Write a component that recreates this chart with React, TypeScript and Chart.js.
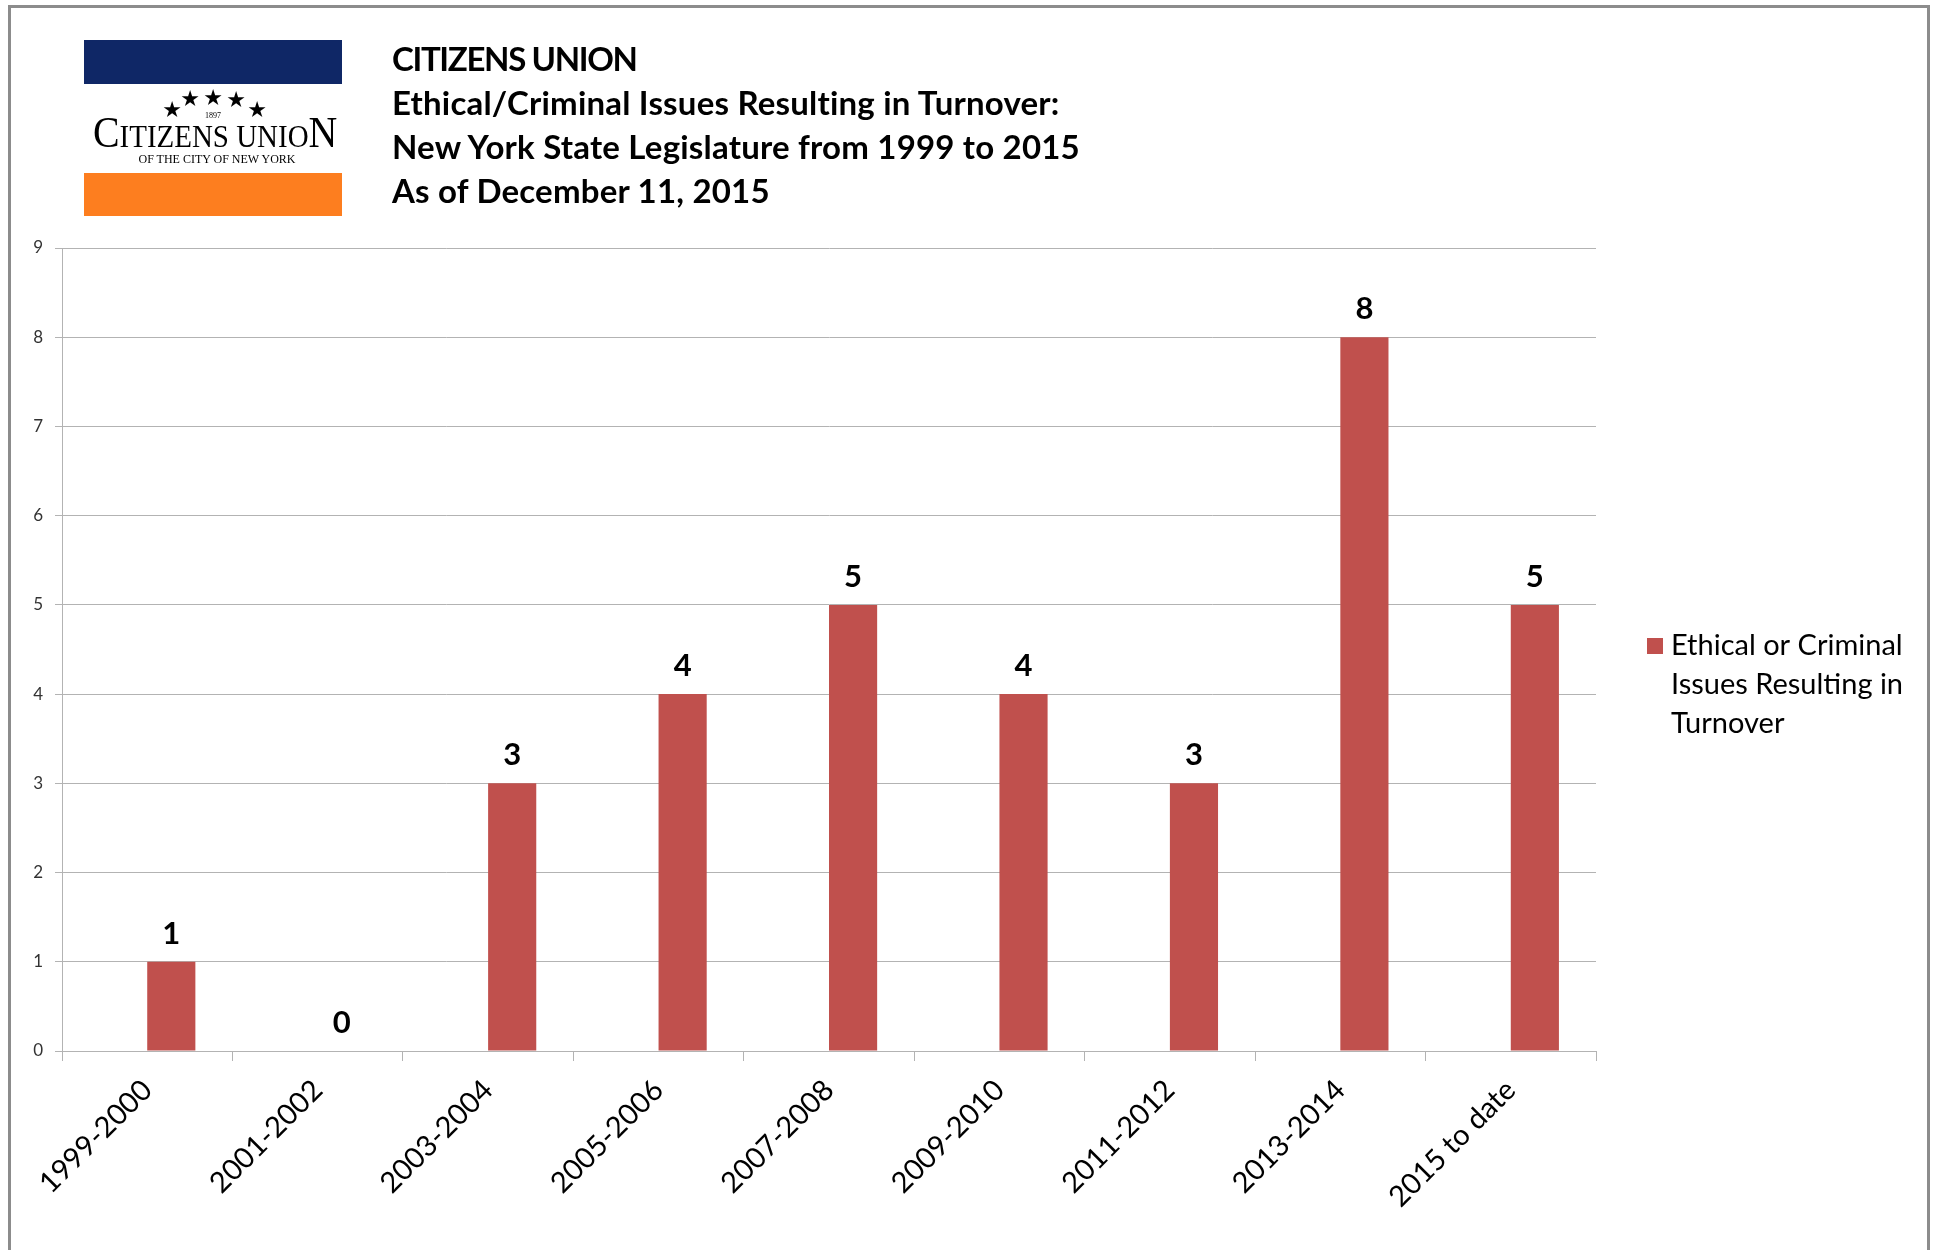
import React, { useEffect, useRef } from "react";
import { Chart, registerables } from "chart.js";

Chart.register(...registerables);

// ---- Data ----
const categories = [
  "1999-2000",
  "2001-2002",
  "2003-2004",
  "2005-2006",
  "2007-2008",
  "2009-2010",
  "2011-2012",
  "2013-2014",
  "2015 to date",
];
const turnoverCounts = [1, 0, 3, 4, 5, 4, 3, 8, 5];
const blankSeries: (number | null)[] = [null, null, null, null, null, null, null, null, null];
const seriesName = "Ethical or Criminal Issues Resulting in Turnover";
const legendLines = ["Ethical or Criminal", "Issues Resulting in", "Turnover"];
const yMin = 0;
const yMax = 9;
const yStep = 1;
const titleLines = [
  "CITIZENS UNION",
  "Ethical/Criminal Issues Resulting in Turnover:",
  "New York State Legislature from 1999 to 2015",
  "As of December 11, 2015",
];

const BAR_COLOR = "#c0504d";
const GRID_COLOR = "#b3b3b3";
const FONT = "Lato, 'Open Sans', sans-serif";

const CANVAS_W = 1916;
const CANVAS_H = 1242;

export default function App() {
  const canvasRef = useRef<HTMLCanvasElement | null>(null);

  useEffect(() => {
    const canvas = canvasRef.current;
    if (!canvas) return;

    const dataLabels = {
      id: "dataLabels",
      afterDatasetsDraw(chart: any) {
        const ctx = chart.ctx;
        const meta = chart.getDatasetMeta(1);
        ctx.save();
        ctx.font = `bold 31px ${FONT}`;
        ctx.fillStyle = "#000";
        ctx.textAlign = "center";
        ctx.textBaseline = "middle";
        meta.data.forEach((el: any, i: number) => {
          const v = chart.data.datasets[1].data[i];
          ctx.fillText(String(v), el.x, el.y - 28);
        });
        ctx.restore();
      },
    };

    const customLegend = {
      id: "customLegend",
      afterDraw(chart: any) {
        const ctx = chart.ctx;
        const left = chart.chartArea.right + 51;
        const firstY = 638;
        ctx.save();
        ctx.fillStyle = BAR_COLOR;
        ctx.fillRect(left, firstY - 8, 16, 16);
        ctx.fillStyle = "#000";
        ctx.font = `29px ${FONT}`;
        ctx.textAlign = "left";
        ctx.textBaseline = "middle";
        legendLines.forEach((line, i) => {
          ctx.fillText(line, left + 24, firstY + i * 39);
        });
        ctx.restore();
      },
    };

    const chart = new Chart(canvas, {
      type: "bar",
      data: {
        labels: categories,
        datasets: [
          {
            label: "",
            data: blankSeries,
            backgroundColor: "rgba(0,0,0,0)",
          },
          {
            label: seriesName,
            data: turnoverCounts,
            backgroundColor: BAR_COLOR,
            borderWidth: 0,
          },
        ],
      },
      options: {
        responsive: false,
        animation: false,
        layout: { padding: { top: 240, right: 331, left: 0, bottom: 0 } },
        datasets: {
          bar: { categoryPercentage: 0.565, barPercentage: 1 },
        },
        plugins: {
          legend: { display: false },
          tooltip: { enabled: false },
          title: { display: false },
        },
        scales: {
          x: {
            offset: true,
            grid: {
              offset: true,
              drawOnChartArea: false,
              drawTicks: true,
              tickLength: 10,
              color: GRID_COLOR,
            },
            border: { display: true, color: GRID_COLOR, width: 1 },
            ticks: {
              minRotation: 45,
              maxRotation: 45,
              autoSkip: false,
              padding: 12,
              color: "#000",
              font: { family: FONT, size: 29 },
            },
            afterFit: (s: any) => {
              s.height = 199;
            },
          },
          y: {
            min: yMin,
            max: yMax,
            grid: {
              color: GRID_COLOR,
              drawTicks: true,
              tickLength: 7,
            },
            border: { display: true, color: GRID_COLOR, width: 1 },
            ticks: {
              stepSize: yStep,
              padding: 12,
              color: "#333",
              font: { family: FONT, size: 17 },
            },
            afterFit: (s: any) => {
              s.width = 51;
            },
          },
        },
      },
      plugins: [dataLabels, customLegend],
    });

    return () => chart.destroy();
  }, []);

  const serif = "'Liberation Serif', 'DejaVu Serif', serif";
  const stars = [
    { x: 161, y: 102, s: 22 },
    { x: 179, y: 91, s: 22 },
    { x: 202, y: 90, s: 22 },
    { x: 225, y: 92, s: 22 },
    { x: 246, y: 102, s: 22 },
  ];

  return (
    <div
      style={{
        position: "absolute",
        left: 8,
        top: 5,
        width: CANVAS_W,
        height: CANVAS_H,
        borderTop: "3px solid #8c8c8c",
        borderLeft: "3px solid #8c8c8c",
        borderRight: "3px solid #8c8c8c",
        background: "#fff",
      }}
    >
      <canvas
        ref={canvasRef}
        width={CANVAS_W}
        height={CANVAS_H}
        style={{ position: "absolute", left: 0, top: 0, width: CANVAS_W, height: CANVAS_H }}
      />
      {/* Logo */}
      <div style={{ position: "absolute", left: 73, top: 32, width: 258, height: 44, background: "#0f2766" }} />
      <div style={{ position: "absolute", left: 73, top: 165, width: 258, height: 43, background: "#fd7e1f" }} />
      {stars.map((st, i) => (
        <div
          key={i}
          style={{
            position: "absolute",
            left: st.x - st.s / 2,
            top: st.y - st.s / 2,
            width: st.s,
            height: st.s,
            fontSize: st.s,
            lineHeight: `${st.s}px`,
            textAlign: "center",
            fontFamily: "'DejaVu Sans', sans-serif",
            color: "#000",
          }}
        >
          ★
        </div>
      ))}
      <div
        style={{
          position: "absolute",
          left: 182,
          top: 104,
          width: 40,
          textAlign: "center",
          fontFamily: serif,
          fontSize: 8,
          lineHeight: "8px",
          color: "#000",
        }}
      >
        1897
      </div>
      <div
        style={{
          position: "absolute",
          left: 82,
          top: 105,
          width: 300,
          whiteSpace: "nowrap",
          fontFamily: serif,
          color: "#000",
          lineHeight: "40px",
          transform: "scaleX(0.905)",
          transformOrigin: "left top",
        }}
      >
        <span style={{ fontSize: 44 }}>C</span>
        <span style={{ fontSize: 32 }}>ITIZENS UNIO</span>
        <span style={{ fontSize: 44 }}>N</span>
      </div>
      <div
        style={{
          position: "absolute",
          left: 121,
          top: 144,
          width: 170,
          textAlign: "center",
          whiteSpace: "nowrap",
          fontFamily: serif,
          fontSize: 12,
          lineHeight: "14px",
          color: "#000",
        }}
      >
        OF THE CITY OF NEW YORK
      </div>
      {/* Title */}
      <div
        style={{
          position: "absolute",
          left: 381,
          top: 28,
          fontFamily: FONT,
          fontWeight: 700,
          fontSize: 33,
          lineHeight: "44px",
          color: "#000",
          whiteSpace: "nowrap",
        }}
      >
        {titleLines.map((t, i) => (
          <div key={i} style={i === 0 ? { letterSpacing: "-1.35px" } : { letterSpacing: "0.2px" }}>
            {t}
          </div>
        ))}
      </div>
    </div>
  );
}
